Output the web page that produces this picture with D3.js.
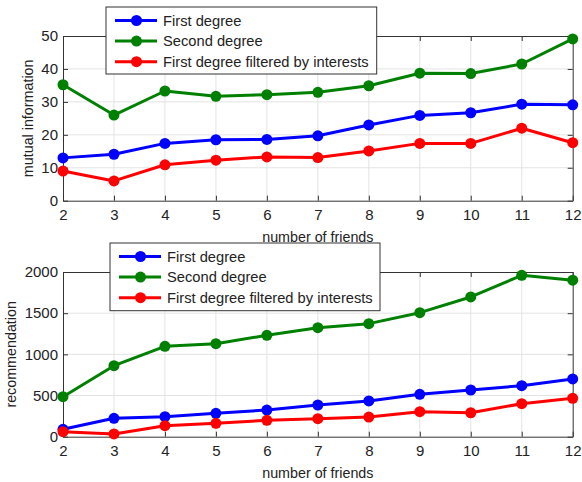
<!DOCTYPE html>
<html><head><meta charset="utf-8">
<script src="https://cdn.jsdelivr.net/npm/d3@7"></script>
<style>body{margin:0;background:#fff}svg{display:block}text{font-family:"Liberation Sans",Arial,sans-serif;fill:#222}</style>
</head><body><svg id="c" width="582" height="482"></svg>
<script>
const friends = [2,3,4,5,6,7,8,9,10,11,12];
const seriesNames = ["First degree","Second degree","First degree filtered by interests"];
const colors = ["#0000ff","#008000","#ff0000"];
// top panel: mutual information
const miFirst  = [13.0,14.1,17.4,18.5,18.6,19.7,23.0,25.9,26.7,29.3,29.1];
const miSecond = [35.2,26.0,33.3,31.7,32.2,32.9,34.9,38.7,38.6,41.5,49.1];
const miFilt   = [9.0,6.0,10.9,12.3,13.3,13.1,15.1,17.4,17.4,22.0,17.6];
const miTicks  = [0,10,20,30,40,50];
// bottom panel: recommendation
const recFirst  = [90,223,243,284,324,385,434,515,567,620,701];
const recSecond = [486,862,1098,1130,1231,1324,1373,1506,1697,1960,1900];
const recFilt   = [61,33,134,163,199,219,239,304,291,401,466];
const recTicks  = [0,500,1000,1500,2000];

const svg = d3.select("#c");
const X0=63, X1=572.7;

function panel(cfg){
  const g = svg.append("g");
  const x = d3.scaleLinear().domain([2,12]).range([X0,X1]);
  const y = d3.scaleLinear().domain([cfg.ticks[0],cfg.ticks[cfg.ticks.length-1]]).range([cfg.yb,cfg.yt]);
  // grid
  g.append("g").selectAll("line").data(friends.slice(1,-1)).join("line")
    .attr("x1",d=>x(d)).attr("x2",d=>x(d)).attr("y1",cfg.yt).attr("y2",cfg.yb)
    .attr("stroke","#e3e3e3").attr("stroke-width",1);
  g.append("g").selectAll("line").data(cfg.ticks.slice(1,-1)).join("line")
    .attr("x1",X0).attr("x2",X1).attr("y1",d=>y(d)).attr("y2",d=>y(d))
    .attr("stroke","#e3e3e3").attr("stroke-width",1);
  // axes
  const ax = g.append("g").attr("transform",`translate(0,${cfg.yb})`)
    .call(d3.axisBottom(x).tickValues(friends).tickFormat(d3.format("d")).tickSizeInner(-5).tickSizeOuter(0).tickPadding(9));
  const ay = g.append("g").attr("transform",`translate(${X0},0)`)
    .call(d3.axisLeft(y).tickValues(cfg.ticks).tickFormat(d3.format("d")).tickSizeInner(-5).tickSizeOuter(0).tickPadding(5));
  const axT = g.append("g").attr("transform",`translate(0,${cfg.yt})`)
    .call(d3.axisTop(x).tickValues(friends).tickFormat("").tickSizeInner(-5).tickSizeOuter(0));
  const ayR = g.append("g").attr("transform",`translate(${X1},0)`)
    .call(d3.axisRight(y).tickValues(cfg.ticks).tickFormat("").tickSizeInner(-5).tickSizeOuter(0));
  [ax,ay,axT,ayR].forEach(a=>{
    a.attr("font-size",null).attr("font-family",null);
    a.selectAll("path").attr("stroke","#333").attr("stroke-width",1);
    a.selectAll("line").attr("stroke","#333");
    a.selectAll("text").style("font-size","15px").attr("fill","#222");
  });
  // lines
  const line = d3.line().x((d,i)=>x(friends[i])).y(d=>y(d));
  cfg.data.forEach((s,k)=>{
    g.append("path").datum(s).attr("d",line).attr("fill","none")
      .attr("stroke",colors[k]).attr("stroke-width",3).attr("stroke-linejoin","round");
    g.append("g").selectAll("circle").data(s).join("circle")
      .attr("cx",(d,i)=>x(friends[i])).attr("cy",d=>y(d)).attr("r",5.5).attr("fill",colors[k]);
  });
  // labels
  g.append("text").attr("x",(X0+X1)/2).attr("y",cfg.yb+41).attr("text-anchor","middle")
    .style("font-size","14.3px").text("number of friends");
  g.append("text").attr("transform",`translate(${cfg.ylx},${(cfg.yt+cfg.yb)/2}) rotate(-90)`)
    .attr("text-anchor","middle").style("font-size","14.3px").text(cfg.ylabel);
  // legend
  const L = cfg.legend;
  g.append("rect").attr("x",L.x).attr("y",L.y).attr("width",L.w).attr("height",L.h)
    .attr("fill","#fff").attr("stroke","#333").attr("stroke-width",1);
  seriesNames.forEach((n,k)=>{
    const yy = L.y + 13.5 + k*20.6;
    g.append("line").attr("x1",L.x+9).attr("x2",L.x+51).attr("y1",yy).attr("y2",yy)
      .attr("stroke",colors[k]).attr("stroke-width",3);
    g.append("circle").attr("cx",L.x+30.5).attr("cy",yy).attr("r",5.5).attr("fill",colors[k]);
    g.append("text").attr("x",L.x+57).attr("y",yy+5).style("font-size","14.7px").text(n);
  });
}

panel({yt:36,yb:200.7,ticks:miTicks,data:[miFirst,miSecond,miFilt],ylabel:"mutual information",ylx:33,
  legend:{x:106,y:7,w:270.7,h:67}});
panel({yt:272,yb:436.7,ticks:recTicks,data:[recFirst,recSecond,recFilt],ylabel:"recommendation",ylx:16,
  legend:{x:110,y:243,w:270,h:67.7}});
</script></body></html>
